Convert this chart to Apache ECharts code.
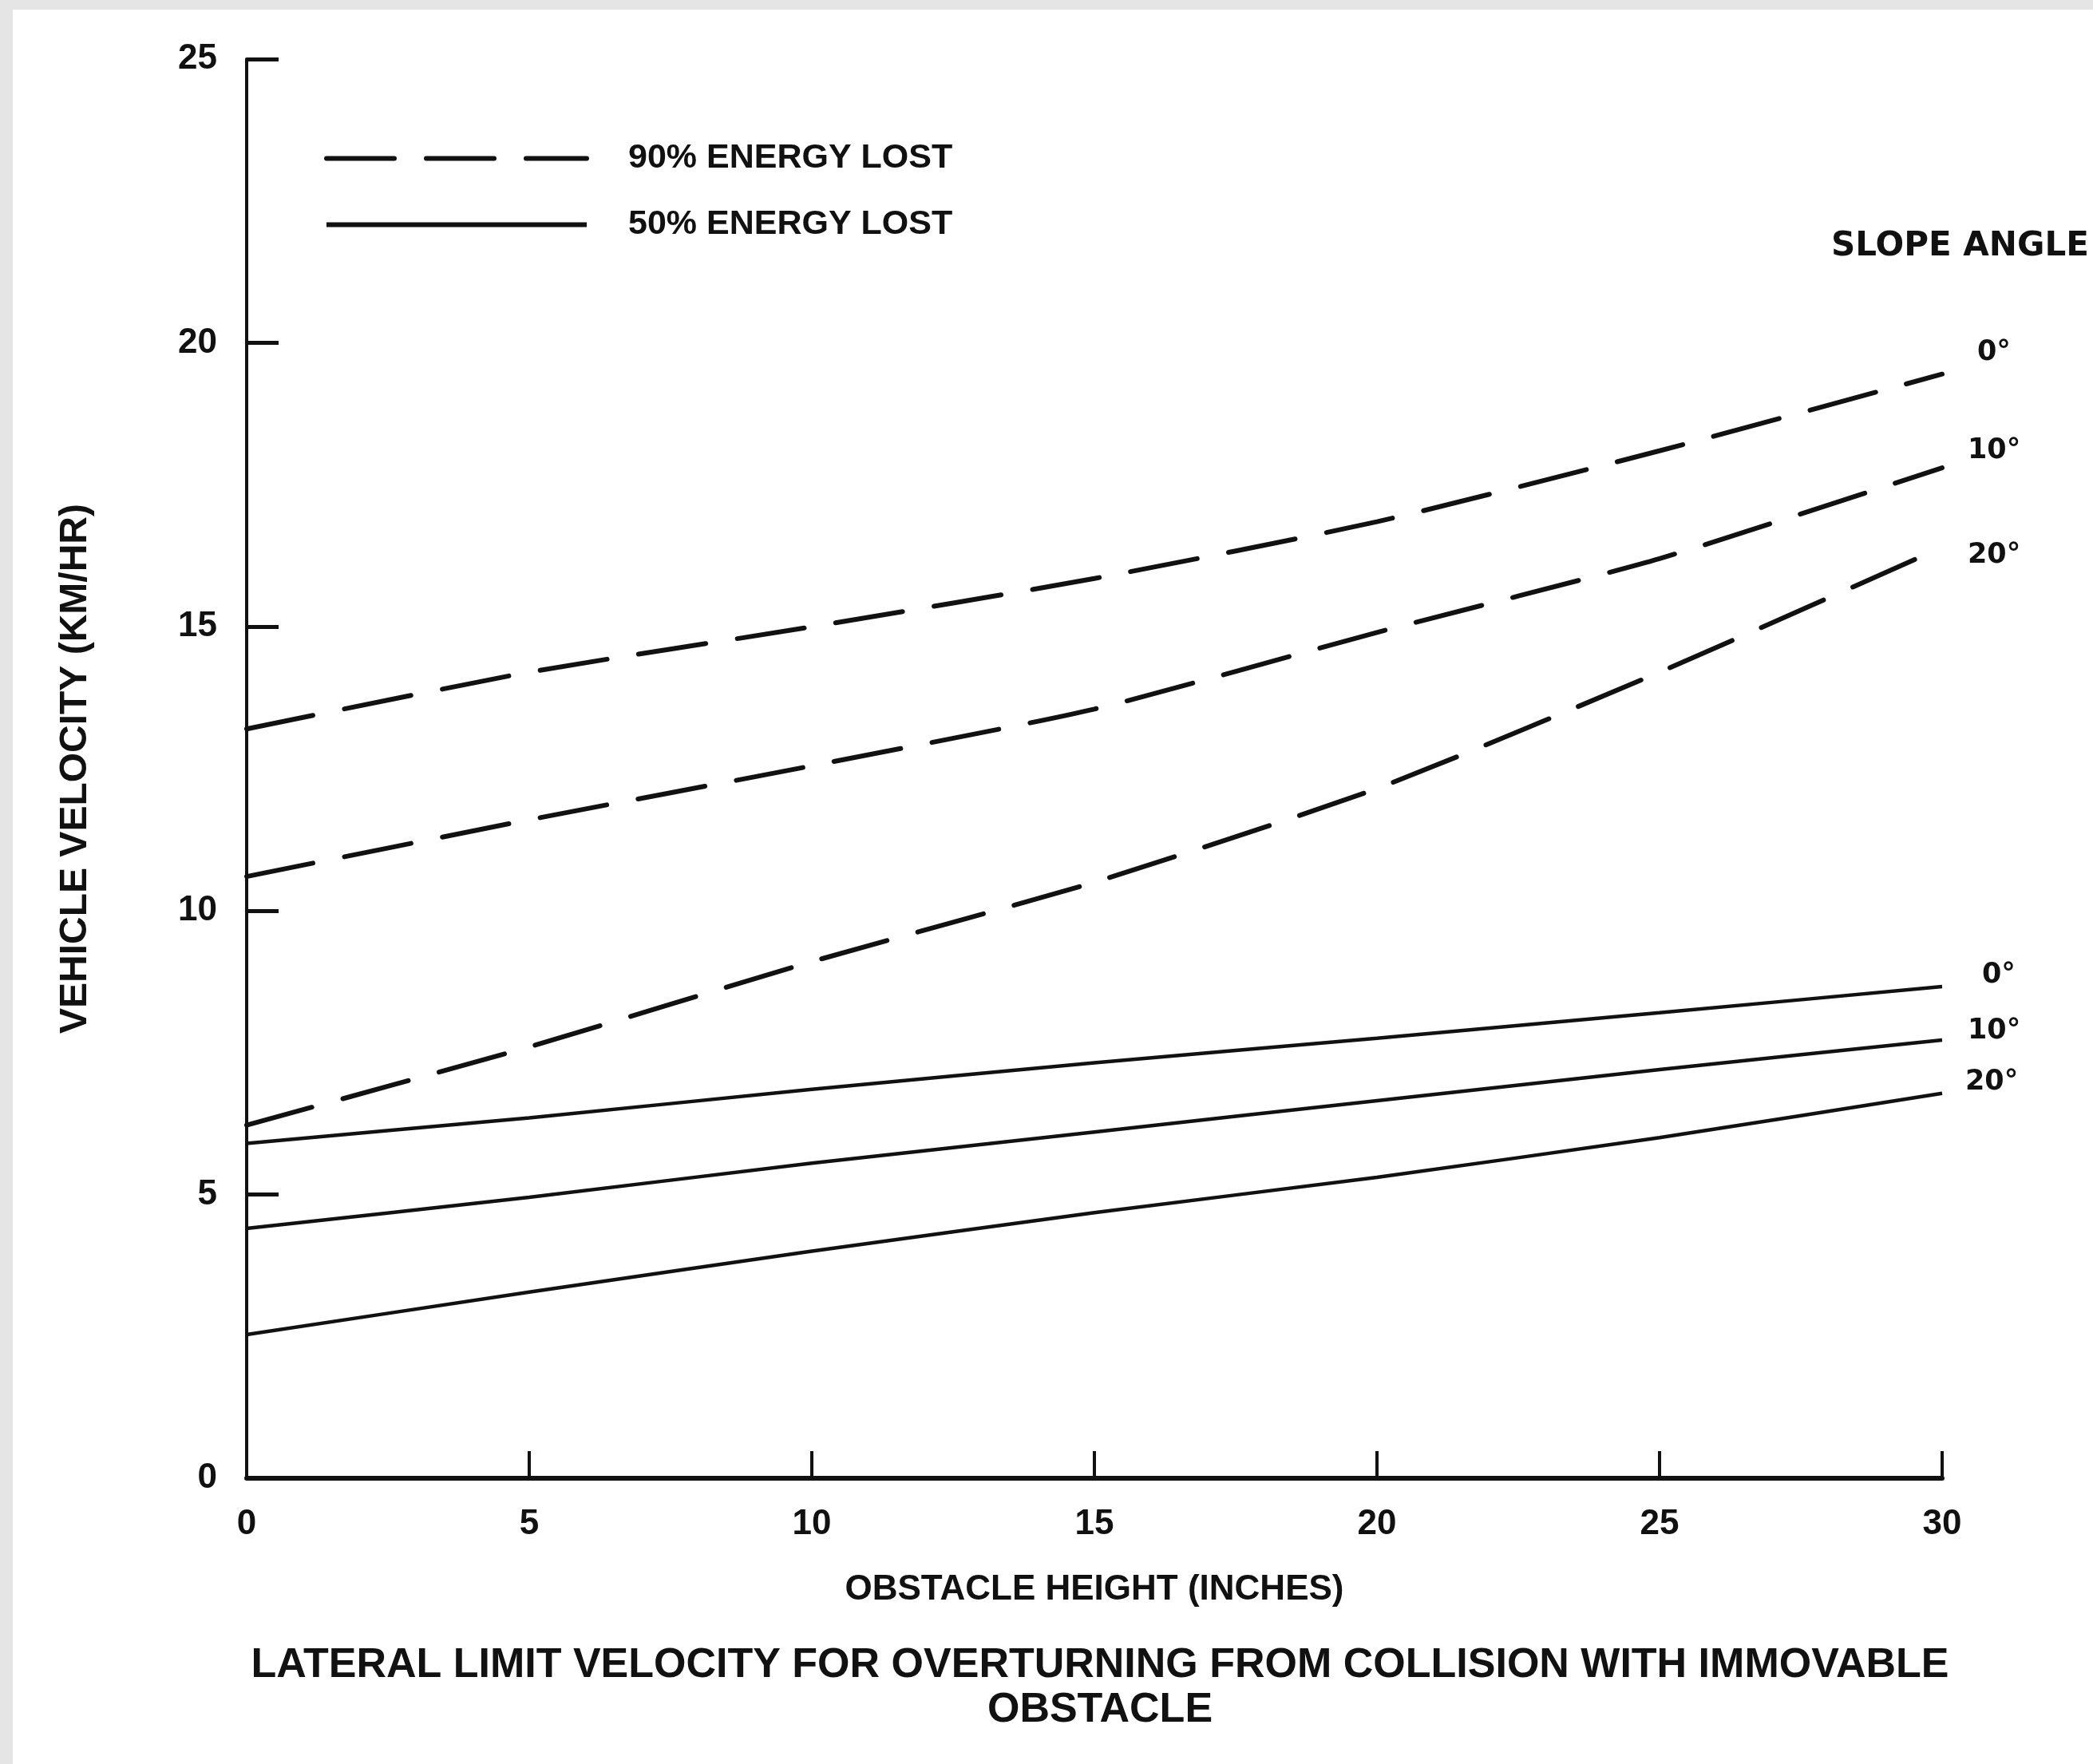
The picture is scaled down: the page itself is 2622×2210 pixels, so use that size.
<!DOCTYPE html>
<html>
<head>
<meta charset="utf-8">
<script src="https://cdn.jsdelivr.net/npm/echarts@6/dist/echarts.min.js"></script>
<style>
  html, body { margin: 0; padding: 0; background: #e5e5e5; }
  #paper { position: absolute; left: 16px; top: 12px; right: 0; bottom: 0; background: #ffffff; }
  #chart { position: absolute; left: 0; top: 0; width: 2622px; height: 2210px; }
</style>
</head>
<body>
<div id="paper"></div>
<div id="chart"></div>
<script>
// ---- data (obstacle height in inches -> vehicle velocity km/hr) ----
const heights = [0, 5, 10, 15, 20, 25, 30];
const xTicks = [0, 5, 10, 15, 20, 25, 30];
const yTicks = [0, 5, 10, 15, 20, 25];
const lost90_slope0  = [13.2, 14.2, 15.0, 15.85, 16.85, 18.1, 19.45];
const lost90_slope10 = [10.6, 11.6, 12.55, 13.55, 14.9, 16.2, 17.8];
const lost90_slope20 = [6.22, 7.6, 9.1, 10.5, 12.15, 14.2, 16.4];
const lost50_slope0  = [5.9, 6.35, 6.85, 7.32, 7.75, 8.2, 8.66];
const lost50_slope10 = [4.4, 4.95, 5.55, 6.1, 6.65, 7.2, 7.72];
const lost50_slope20 = [2.53, 3.28, 4.0, 4.68, 5.3, 6.0, 6.78];
const seriesNames = ['90% ENERGY LOST', '50% ENERGY LOST'];
const angleLabels = ['0°', '10°', '20°'];

const INK = '#111111';
const SANS = '"Liberation Sans", Arial, sans-serif';
const NARROW = '"Liberation Sans Narrow", "Liberation Sans", sans-serif';
const WIDE = '"DejaVu Sans", sans-serif';
const DASH = [85, 40];

function pairs(ys) { return heights.map((h, i) => [h, ys[i]]); }

function makeSeries(name, ys, dashed, label, off) {
  return {
    name: name,
    type: 'line',
    data: pairs(ys),
    symbol: 'none',
    smooth: dashed ? 0.2 : 0.1,
    lineStyle: dashed
      ? { color: INK, width: 6, type: DASH, cap: 'round' }
      : { color: INK, width: 4.5, type: 'solid' },
    itemStyle: { color: INK },
    endLabel: {
      show: true,
      formatter: label,
      color: INK,
      fontFamily: WIDE,
      fontWeight: 'bold',
      fontSize: 35,
      distance: 0,
      offset: off
    }
  };
}

const chart = echarts.init(document.getElementById('chart'), null, { renderer: 'canvas' });
chart.setOption({
  animation: false,
  backgroundColor: 'transparent',
  title: [
    {
      text: 'LATERAL LIMIT VELOCITY FOR OVERTURNING FROM COLLISION WITH IMMOVABLE\nOBSTACLE',
      left: 1378, top: 2059, textAlign: 'center', padding: 0,
      textStyle: { color: INK, fontFamily: SANS, fontWeight: 'bold', fontSize: 52, lineHeight: 56 }
    },
    {
      text: 'SLOPE ANGLE',
      left: 2294, top: 288, padding: 0,
      textStyle: { color: INK, fontFamily: WIDE, fontWeight: 'bold', fontSize: 42 }
    }
  ],
  legend: {
    data: [
      { name: seriesNames[0], itemStyle: { opacity: 0 }, lineStyle: { color: INK, width: 6, type: DASH, cap: 'round' } },
      { name: seriesNames[1], itemStyle: { opacity: 0 }, lineStyle: { color: INK, width: 6, type: 'solid' } }
    ],
    orient: 'vertical',
    left: 406, top: 177,
    itemWidth: 326, itemHeight: 14, itemGap: 40,
    padding: 0,
    selectedMode: false,
    textStyle: { color: INK, fontFamily: SANS, fontWeight: 'bold', fontSize: 43, padding: [0, 0, 0, 47] }
  },
  grid: { left: 309, right: 189, top: 74, bottom: 358, containLabel: false },
  xAxis: {
    type: 'value', min: 0, max: 30, interval: 5,
    name: 'OBSTACLE HEIGHT (INCHES)', nameLocation: 'middle', nameGap: 118,
    nameTextStyle: { color: INK, fontFamily: SANS, fontWeight: 'bold', fontSize: 44 },
    axisLine: { show: true, onZero: false, lineStyle: { color: INK, width: 6 } },
    axisTick: { show: true, inside: true, length: 34, lineStyle: { color: INK, width: 4 } },
    axisLabel: { color: INK, fontFamily: NARROW, fontWeight: 'bold', fontSize: 44, margin: 36,
      formatter: v => xTicks.includes(v) ? String(v) : '' },
    splitLine: { show: false }
  },
  yAxis: {
    type: 'value', min: 0, max: 25, interval: 5,
    name: 'VEHICLE VELOCITY (KM/HR)', nameLocation: 'middle', nameGap: 190,
    nameTextStyle: { color: INK, fontFamily: SANS, fontWeight: 'bold', fontSize: 48 },
    axisLine: { show: true, onZero: false, lineStyle: { color: INK, width: 4 } },
    axisTick: { show: true, inside: true, length: 40, lineStyle: { color: INK, width: 5 } },
    axisLabel: { color: INK, fontFamily: NARROW, fontWeight: 'bold', fontSize: 44, margin: 37,
      formatter: v => yTicks.includes(v) ? String(v) : '' },
    splitLine: { show: false }
  },
  series: [
    makeSeries(seriesNames[0], lost90_slope0, true, angleLabels[0], [44, -27]),
    makeSeries(seriesNames[0], lost90_slope10, true, angleLabels[1], [32, -21]),
    makeSeries(seriesNames[0], lost90_slope20, true, angleLabels[2], [32, 10]),
    makeSeries(seriesNames[1], lost50_slope0, false, angleLabels[0], [50, -14]),
    makeSeries(seriesNames[1], lost50_slope10, false, angleLabels[1], [32, -11]),
    makeSeries(seriesNames[1], lost50_slope20, false, angleLabels[2], [29, -14])
  ]
});
</script>
</body>
</html>
